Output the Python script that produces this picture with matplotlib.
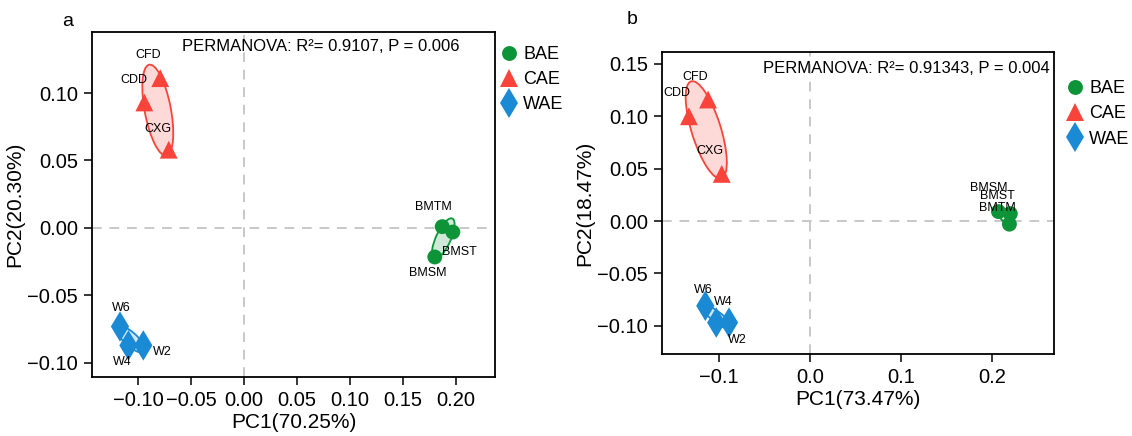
import numpy as np
import matplotlib
matplotlib.use("Agg")
import matplotlib.pyplot as plt
from matplotlib.patches import Ellipse
from matplotlib.lines import Line2D

plt.rcParams['font.family'] = ['Liberation Sans', 'DejaVu Sans']

groups = ['BAE', 'CAE', 'WAE']
colors = {'BAE': '#0E9438', 'CAE': '#F8443A', 'WAE': '#1A8AD4'}
markers = {'BAE': 'o', 'CAE': '^', 'WAE': 'd'}
sizes = {'BAE': 115, 'CAE': 165, 'WAE': 240}

# panel a (PCoA 1)
a_samples = {'BAE': ['BMTM', 'BMST', 'BMSM'],
             'CAE': ['CFD', 'CDD', 'CXG'],
             'WAE': ['W6', 'W4', 'W2']}
a_pc1 = {'BAE': [0.187, 0.197, 0.180],
         'CAE': [-0.079, -0.094, -0.071],
         'WAE': [-0.117, -0.109, -0.095]}
a_pc2 = {'BAE': [0.001, -0.003, -0.0215],
         'CAE': [0.111, 0.093, 0.058],
         'WAE': [-0.073, -0.087, -0.087]}
a_xlab = 'PC1(70.25%)'
a_ylab = 'PC2(20.30%)'
a_stat = 'PERMANOVA: R\u00b2= 0.9107, P = 0.006'

# panel b (PCoA 2)
b_samples = {'BAE': ['BMSM', 'BMST', 'BMTM'],
             'CAE': ['CFD', 'CDD', 'CXG'],
             'WAE': ['W6', 'W4', 'W2']}
b_pc1 = {'BAE': [0.207, 0.220, 0.219],
         'CAE': [-0.112, -0.133, -0.097],
         'WAE': [-0.115, -0.103, -0.089]}
b_pc2 = {'BAE': [0.009, 0.007, -0.003],
         'CAE': [0.116, 0.100, 0.045],
         'WAE': [-0.081, -0.097, -0.097]}
b_xlab = 'PC1(73.47%)'
b_ylab = 'PC2(18.47%)'
b_stat = 'PERMANOVA: R\u00b2= 0.91343, P = 0.004'

# label offsets in pixels (text repel by hand)
a_off = {'BMTM': (-9, 20), 'BMST': (7, -20), 'BMSM': (-7, -16),
         'CFD': (-12, 23), 'CDD': (-10, 22), 'CXG': (-11, 21),
         'W6': (1, 19), 'W4': (-6, -17), 'W2': (19, -7)}
b_off = {'BMSM': (-10, 24), 'BMST': (-13, 18), 'BMTM': (-12, 16),
         'CFD': (-13, 23), 'CDD': (-12, 23), 'CXG': (-12, 23),
         'W6': (-2, 16), 'W4': (7, 21), 'W2': (8, -17)}


def add_ellipse(ax, x, y, color, scale=1.25):
    pts = np.column_stack([x, y])
    cov = np.cov(pts, rowvar=False)
    vals, vecs = np.linalg.eigh(cov)
    order = vals.argsort()[::-1]
    vals, vecs = vals[order], vecs[:, order]
    ang = np.degrees(np.arctan2(vecs[1, 0], vecs[0, 0]))
    w, h = 2 * scale * np.sqrt(np.maximum(vals, 1e-9))
    ax.add_patch(Ellipse(pts.mean(axis=0), w, h, angle=ang,
                         facecolor=color, alpha=0.2, edgecolor='none', zorder=1))
    ax.add_patch(Ellipse(pts.mean(axis=0), w, h, angle=ang,
                         facecolor='none', edgecolor=color, lw=1.3, zorder=2))


def panel(ax, samples, pc1, pc2, offs, xlab, ylab, stat, stat_xy, stat_ha,
          xlim, ylim, xticks, yticks, xfmt, leg_anchor):
    ax.axvline(0, color='#C8C8C8', lw=1.4, ls=(0, (5, 4)), zorder=0)
    ax.axhline(0, color='#C8C8C8', lw=1.4, ls=(0, (5, 4)), zorder=0)
    for g in groups:
        add_ellipse(ax, pc1[g], pc2[g], colors[g])
        ax.scatter(pc1[g], pc2[g], s=sizes[g], marker=markers[g],
                   color=colors[g], edgecolors='none', zorder=3)
        for nm, x, y in zip(samples[g], pc1[g], pc2[g]):
            ax.annotate(nm, (x, y), xytext=offs[nm], textcoords='offset pixels',
                        ha='center', va='center', fontsize=9, zorder=4)
    ax.set_xlim(*xlim)
    ax.set_ylim(*ylim)
    ax.set_xticks(xticks)
    ax.set_yticks(yticks)
    ax.set_xticklabels([xfmt.format(v).replace('-', '\u2212') for v in xticks])
    ax.set_yticklabels(['{:.2f}'.format(v).replace('-', '\u2212') for v in yticks])
    ax.tick_params(labelsize=14.5, length=6, width=1.1, pad=4, direction='out')
    ax.set_xlabel(xlab, fontsize=15, labelpad=2)
    ax.set_ylabel(ylab, fontsize=15, labelpad=2)
    for s in ax.spines.values():
        s.set_linewidth(1.3)
    ax.text(stat_xy[0], stat_xy[1], stat, transform=ax.transAxes,
            ha=stat_ha, va='center', fontsize=12)
    handles = [Line2D([], [], ls='none', marker=markers[g], color=colors[g],
                      markersize=np.sqrt(sizes[g]), markeredgewidth=0)
               for g in groups]
    ax.legend(handles, groups, loc='upper left', bbox_to_anchor=leg_anchor,
              frameon=False, fontsize=13, handletextpad=0.1,
              labelspacing=0.45, handlelength=1.4, borderaxespad=0)


fig = plt.figure(figsize=(11.32, 4.36), dpi=100)
ax1 = fig.add_axes([92 / 1132, 1 - 377 / 436, 403 / 1132, 345 / 436])
ax2 = fig.add_axes([662 / 1132, 1 - 354 / 436, 392 / 1132, 302 / 436])

panel(ax1, a_samples, a_pc1, a_pc2, a_off, a_xlab, a_ylab, a_stat,
      (0.223, 0.958), 'left', (-0.1434, 0.2368), (-0.1104, 0.1452),
      [-0.10, -0.05, 0.0, 0.05, 0.10, 0.15, 0.20], [-0.10, -0.05, 0.0, 0.05, 0.10],
      '{:.2f}', (0.985, 0.98))
panel(ax2, b_samples, b_pc1, b_pc2, b_off, b_xlab, b_ylab, b_stat,
      (0.99, 0.944), 'right', (-0.1626, 0.268), (-0.127, 0.1614),
      [-0.1, 0.0, 0.1, 0.2], [-0.10, -0.05, 0.0, 0.05, 0.10, 0.15],
      '{:.1f}', (1.002, 0.93))

fig.text(68 / 1132, 1 - 22 / 436, 'a', fontsize=14, ha='center', va='center')
fig.text(632 / 1132, 1 - 20 / 436, 'b', fontsize=14, ha='center', va='center')

fig.savefig('out.png', dpi=100)
